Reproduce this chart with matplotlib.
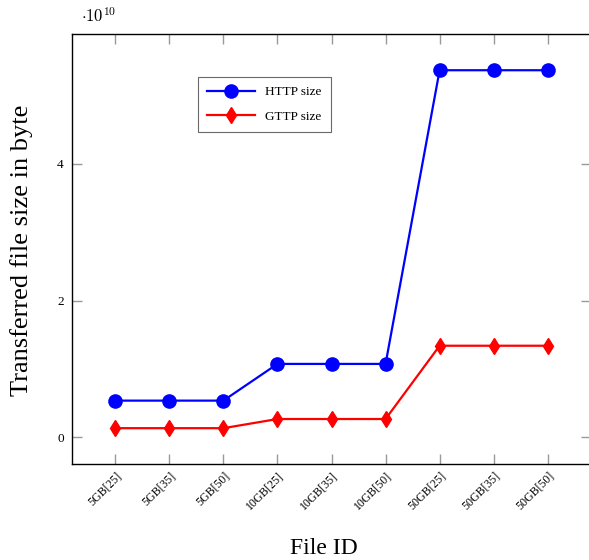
import matplotlib
matplotlib.use('Agg')
import matplotlib.pyplot as plt

plt.rcParams['font.family'] = ['Liberation Serif', 'DejaVu Serif']
plt.rcParams['mathtext.fontset'] = 'cm'

file_ids = ['5GB[25]', '5GB[35]', '5GB[50]', '10GB[25]', '10GB[35]', '10GB[50]',
            '50GB[25]', '50GB[35]', '50GB[50]']
http_size = [5.37e9, 5.37e9, 5.37e9, 1.074e10, 1.074e10, 1.074e10, 5.37e10, 5.37e10, 5.37e10]
gttp_size = [1.34e9, 1.34e9, 1.34e9, 2.68e9, 2.68e9, 2.68e9, 1.34e10, 1.34e10, 1.34e10]
y_ticks = [0, 2e10, 4e10]
y_ticklabels = ['0', '2', '4']

W, H = 589, 560
fig = plt.figure(figsize=(W / 100, H / 100), dpi=100)
ax = fig.add_axes([72 / W, (H - 464) / H, (591 - 72) / W, (464 - 34) / H])

x = list(range(len(file_ids)))
ax.plot(x, http_size, color='blue', lw=1.6, marker='o', ms=9.5, label='HTTP size')
ax.plot(x, gttp_size, color='red', lw=1.6, marker='d', ms=8.5, label='GTTP size')

ax.set_xlim(-0.8, 8.8)
ax.set_ylim(-0.39e10, 5.9e10)
ax.set_xticks(x)
ax.set_xticklabels(file_ids, rotation=45, ha='right', va='top', fontsize=8.5,
                   rotation_mode='anchor')
ax.set_yticks(y_ticks)
ax.set_yticklabels(y_ticklabels, fontsize=9.5)
ax.tick_params(direction='in', length=7.5, width=1, color='#999999',
               top=True, right=True, pad=6)
ax.tick_params(axis='x', pad=4)
for s in ax.spines.values():
    s.set_linewidth(1)

fig.text(324 / W, 1 - 548 / H, 'File ID', fontsize=17, ha='center', va='center')
fig.text(22 / W, 1 - 250 / H, 'Transferred file size in byte', fontsize=19,
         rotation=90, ha='center', va='center')

fig.text(81 / W, 1 - 17 / H, r'$\cdot 10^{10}$', fontsize=12, va='center', ha='left')

leg = ax.legend(loc='upper left', bbox_to_anchor=((198 - 72) / (591 - 72), (464 - 77) / (464 - 34)),
                fontsize=9.5, frameon=True, fancybox=False, edgecolor='#444444',
                handlelength=3.6, borderpad=0.7, labelspacing=0.9, borderaxespad=0,
                handletextpad=0.8)
leg.get_frame().set_linewidth(0.8)

fig.savefig('out.png', dpi=100)
